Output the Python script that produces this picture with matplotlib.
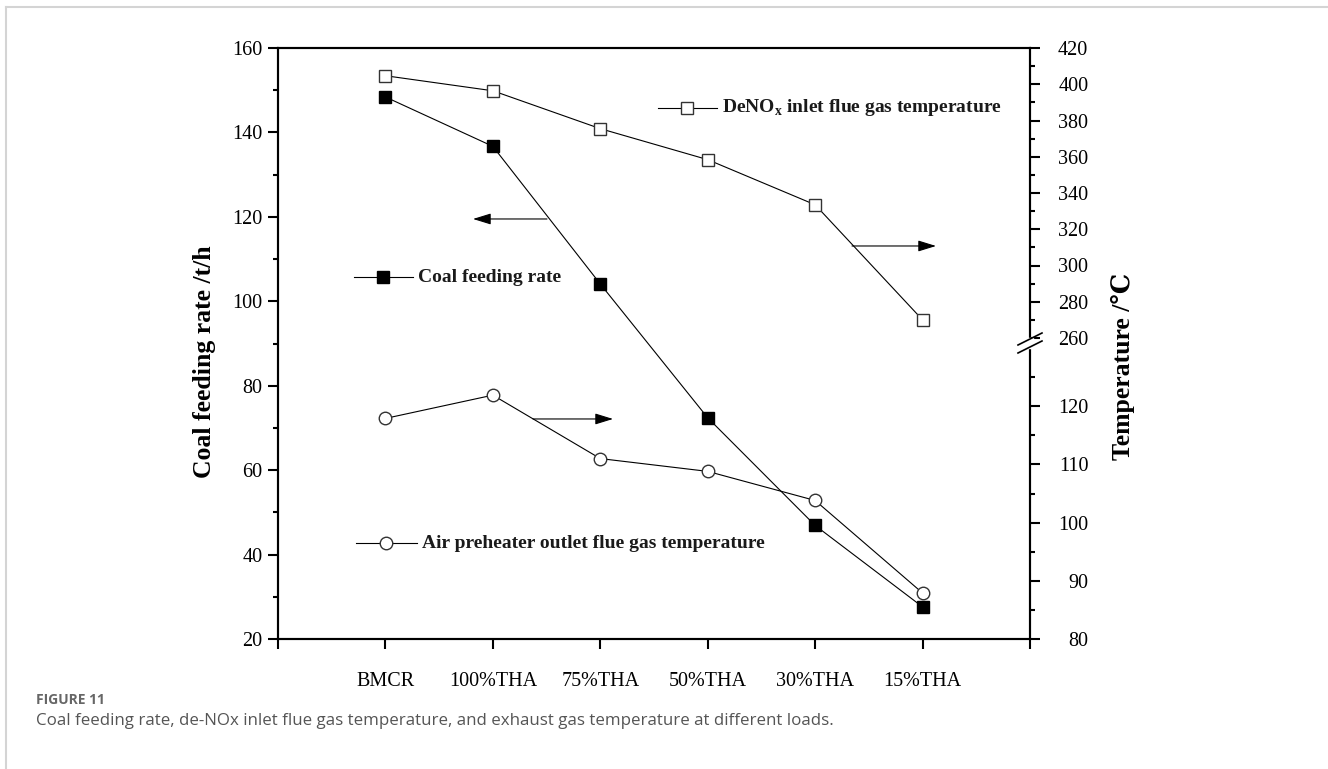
import matplotlib
matplotlib.use('Agg')
import matplotlib.pyplot as plt
import numpy as np
from matplotlib.lines import Line2D

plt.rcParams['font.family'] = ['Liberation Serif', 'DejaVu Serif']
plt.rcParams['mathtext.fontset'] = 'custom'
plt.rcParams['mathtext.rm'] = 'Liberation Serif'
plt.rcParams['mathtext.bf'] = 'Liberation Serif:bold'

# === Data ===
loads = ['BMCR', '100%THA', '75%THA', '50%THA', '30%THA', '15%THA']
coal_rate = [148.4, 136.7, 104.1, 72.4, 46.9, 27.6]          # t/h
denox_temp = [404.7, 396.4, 375.5, 358.4, 333.5, 270.0]      # degC
air_out_temp = [117.9, 121.9, 111.0, 108.8, 103.8, 87.9]     # degC

x = np.arange(1, len(loads) + 1)

# broken right axis: piecewise-linear scale (80-130 stretched, 260-420 compressed)
t_knots = np.array([-1000.0, 80.0, 130.0, 260.0, 420.0, 2000.0])
s_knots = np.array([-1080 * 5.82, 0.0, 291.0, 301.0, 591.0, 591.0 + 1580 * 1.8125])


def fwd(t):
    return np.interp(t, t_knots, s_knots)


def inv(s):
    return np.interp(s, s_knots, t_knots)


# === Figure ===
fig = plt.figure(figsize=(13.28, 7.69), dpi=100)
ax = fig.add_axes([278 / 1328, 1 - 639 / 769, 752 / 1328, 591 / 769])
ax2 = ax.twinx()

ax.plot(x, coal_rate, color='black', lw=0.8, marker='s', ms=8.5,
        mfc='black', mec='black', zorder=3)
ax2.set_yscale('function', functions=(fwd, inv))
ax2.plot(x, denox_temp, color='black', lw=0.8, marker='s', ms=8.5,
         mfc='white', mec='#333333', mew=1.0, zorder=3)
ax2.plot(x, air_out_temp, color='black', lw=0.8, marker='o', ms=9,
         mfc='white', mec='#333333', mew=1.0, zorder=3)

# left axis
ax.set_xlim(0, len(loads) + 1)
ax.set_ylim(20, 160)
ax.set_xticks(np.arange(0, len(loads) + 2))
ax.set_xticklabels([''] + loads + [''], fontsize=14.5)
ax.set_yticks(np.arange(20, 161, 20))
ax.set_yticks(np.arange(30, 160, 20), minor=True)
ax.tick_params(axis='y', which='major', direction='out', length=7, width=1.5,
               labelsize=14.5, pad=4)
ax.tick_params(axis='y', which='minor', direction='out', length=3.5, width=1.5)
ax.tick_params(axis='x', direction='out', length=7, width=1.5, pad=16.5)
ax.set_ylabel('Coal feeding rate /t/h', fontsize=18.5, fontweight='bold')
ax.yaxis.set_label_coords(-0.0824, 0.469)

# right axis
ax2.set_ylim(80, 420)
ax2.set_yticks([80, 90, 100, 110, 120] + list(range(260, 421, 20)))
ax2.set_yticks([85, 95, 105, 115, 125] + list(range(270, 420, 20)), minor=True)
ax2.tick_params(axis='y', which='major', direction='out', length=7, width=1.5,
                labelsize=14.5, pad=35)
ax2.tick_params(axis='y', which='minor', direction='out', length=3.5, width=1.5)
plt.setp(ax2.get_yticklabels(), ha='right')
ax2.set_ylabel('Temperature /℃', fontsize=18.5, fontweight='bold')
ax2.yaxis.set_label_coords(1.107, 0.462)

for a in (ax, ax2):
    for sp in a.spines.values():
        sp.set_linewidth(1.5)

# break marks on right spine
bx, by = 1.0, (639 - 343) / 591
dx, dy = 12 / 752, 6 / 591
gap = 4 / 591
ax2.fill([bx - 0.004, bx + 0.004, bx + 0.004, bx - 0.004],
         [by - gap - 0.002, by - gap - 0.002, by + gap + 0.002, by + gap + 0.002],
         color='white', transform=ax2.transAxes, clip_on=False, zorder=5)
for off in (-gap, gap):
    ax2.plot([bx - dx, bx + dx], [by + off - dy, by + off + dy], color='black',
             lw=1.2, transform=ax2.transAxes, clip_on=False, zorder=6)

# legend keys placed inside the plot
def key(fx0, fx1, fy, marker, mfc, ms, label):
    ax.plot([fx0, fx1], [fy, fy], color='black', lw=0.8,
            transform=ax.transAxes, clip_on=False, zorder=4)
    ax.plot([(fx0 + fx1) / 2], [fy], marker=marker, ms=ms, mfc=mfc,
            mec='#333333' if mfc == 'white' else 'black', mew=1.0,
            transform=ax.transAxes, clip_on=False, zorder=5)
    ax.text(fx1 + 0.007, fy, label, transform=ax.transAxes, fontsize=14,
            fontweight='bold', va='center', ha='left', color='#1a1a1a')


key(0.505, 0.584, 0.8985, 's', 'white', 8.5,
    r'DeNO$_{\mathbf{x}}$ inlet flue gas temperature')
key(0.101, 0.1795, 0.6125, 's', 'black', 8.5, 'Coal feeding rate')
key(0.1037, 0.1848, 0.162, 'o', 'white', 9, 'Air preheater outlet flue gas temperature')

# arrows pointing to the relevant axis
arrow_kw = dict(arrowstyle='-|>,head_length=0.55,head_width=0.17', lw=0.8,
                color='black', mutation_scale=20, shrinkA=0, shrinkB=0)
ax.annotate('', xy=(0.2593, 0.7107), xytext=(0.3577, 0.7107),
            xycoords='axes fraction', arrowprops=arrow_kw)
ax.annotate('', xy=(0.4455, 0.3723), xytext=(0.3391, 0.3723),
            xycoords='axes fraction', arrowprops=arrow_kw)
ax.annotate('', xy=(0.875, 0.665), xytext=(0.7633, 0.665),
            xycoords='axes fraction', arrowprops=arrow_kw)

# page frame and caption
fig.add_artist(Line2D([6 / 1328, 1.0], [1 - 7 / 769, 1 - 7 / 769],
                      color='#d4d4d4', lw=1.5, transform=fig.transFigure))
fig.add_artist(Line2D([6 / 1328, 6 / 1328], [0.0, 1 - 7 / 769],
                      color='#d4d4d4', lw=1.5, transform=fig.transFigure))
fig.text(36 / 1328, 1 - 700 / 769, 'FIGURE 11', family='Open Sans',
         fontsize=10, fontweight='bold', color='#666666', va='center')
fig.text(36 / 1328, 1 - 721 / 769,
         'Coal feeding rate, de-NOx inlet flue gas temperature, and exhaust gas '
         'temperature at different loads.',
         family='Open Sans', fontsize=12.2, color='#555555', va='center')

fig.savefig('out.png', dpi=100)
